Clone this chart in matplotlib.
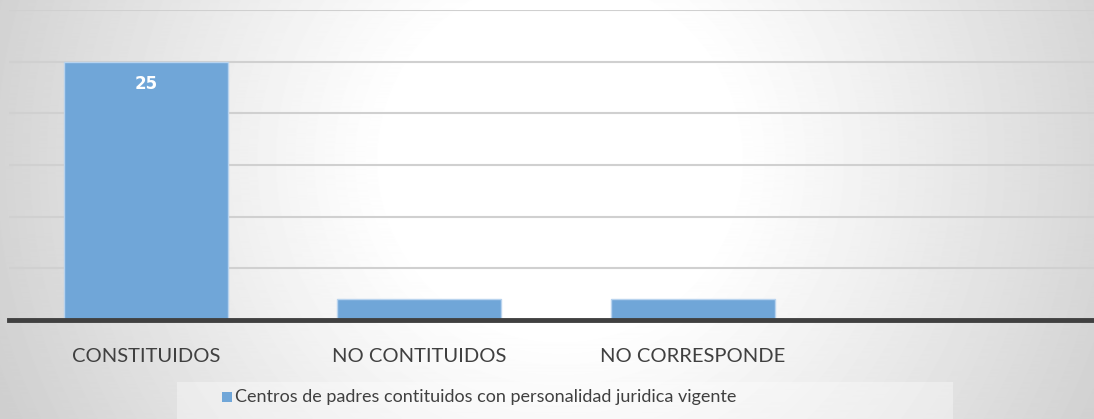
import numpy as np
import matplotlib.pyplot as plt
from matplotlib.patches import Rectangle

# Data
categories = ["CONSTITUIDOS", "NO CONTITUIDOS", "NO CORRESPONDE", ""]
values = [25, 2, 2, np.nan]
series_name = "Centros de padres contituidos con personalidad juridica vigente"

bar_color = "#70a6d8"
font = ["Lato", "DejaVu Sans"]
bold_font = ["DejaVu Sans"]

W, H = 1094, 419
fig = plt.figure(figsize=(W / 100, H / 100), dpi=100)

# background: radial grey gradient, white in the middle
bg = fig.add_axes([0, 0, 1, 1])
px, py = np.meshgrid(np.arange(W), np.arange(H))
d = np.hypot(px - 560, py - 160)
shade = 1.0 - 0.19 * np.clip((d - 170) / 440, 0, 1) ** 1.1
bg.imshow(shade, cmap="gray", vmin=0, vmax=1, aspect="auto", extent=[0, 1, 0, 1], origin="upper")
bg.axis("off")

ax = fig.add_axes([9 / W, 1 - 320 / H, 1094 / W, 310 / H])
ax.patch.set_alpha(0)
x = np.arange(len(categories))
bars = ax.bar(x, values, width=0.6, color=bar_color, edgecolor="#b8d3ee", linewidth=1, zorder=3)
ax.set_xlim(-0.5, 3.5)
ax.set_ylim(0, 30)
ax.set_yticks([5, 10, 15, 20, 25, 30])
ax.yaxis.grid(True, color="#d0d0d0", linewidth=1.5)
ax.tick_params(left=False, labelleft=False, bottom=False)
for s in ["top", "right", "left"]:
    ax.spines[s].set_visible(False)
ax.spines["bottom"].set_color("#404040")
ax.spines["bottom"].set_linewidth(3.5)
ax.spines["bottom"].set_zorder(4)
ax.set_xticks(x)
ax.set_xticklabels(categories, fontsize=14.5, color="#404040", family=font)
ax.tick_params(axis="x", pad=17)

for i, v in enumerate(values):
    if np.isnan(v):
        continue
    if v > 5:
        ax.text(i, v - 2.2, str(v), ha="center", va="center", color="white",
                fontsize=12, fontweight="bold", family=bold_font, zorder=5)
    else:
        # small bars: label sits under the bar top, hidden like in the original
        ax.text(i, v, str(v), ha="center", va="top", color="white",
                fontsize=12, fontweight="bold", family=bold_font, zorder=2)

# legend box
fig.patches.append(Rectangle((177 / W, 0), (953 - 177) / W, (419 - 382) / H,
                             transform=fig.transFigure, facecolor="white", alpha=0.35,
                             edgecolor="none", zorder=1))
fig.patches.append(Rectangle((222 / W, 1 - 402 / H), 10 / W, 10 / H,
                             transform=fig.transFigure, facecolor=bar_color,
                             edgecolor="none", zorder=2))
fig.text(235 / W, 1 - 397 / H, series_name, ha="left", va="center",
         fontsize=13, color="#404040", family=font)

fig.savefig("out.png", dpi=100)
